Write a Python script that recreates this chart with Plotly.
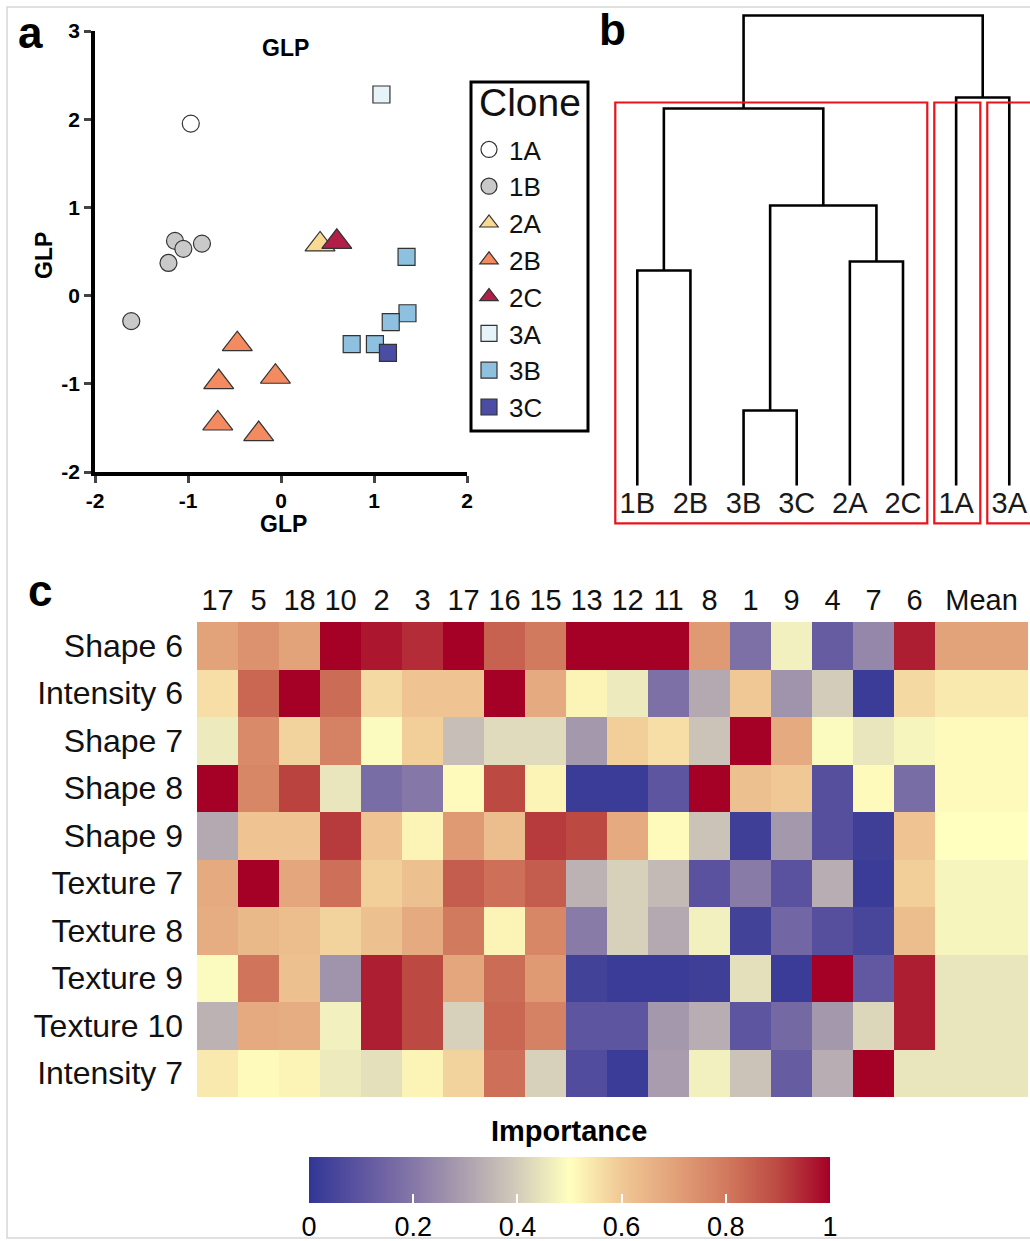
import plotly.graph_objects as go

W, H = 1030, 1241
FONT = "Arial, Liberation Sans, sans-serif"
NARROW = "Liberation Sans Narrow, Arial Narrow, Arial, Liberation Sans, sans-serif"

def pxx(p):
    return p / W

def pxy(p):
    return 1 - p / H

# ---------------- Panel a: GLP scatter ----------------
clones = ["1A", "1B", "2A", "2B", "2C", "3A", "3B", "3C"]
x_1A = [-0.97]
y_1A = [1.95]
x_1B = [-1.14, -1.05, -0.85, -1.21, -1.61]
y_1B = [0.62, 0.53, 0.59, 0.37, -0.29]
x_2A = [0.42]
y_2A = [0.58]
x_2B = [-0.47, -0.67, -0.06, -0.68, -0.24]
y_2B = [-0.55, -0.98, -0.92, -1.45, -1.57]
x_2C = [0.60]
y_2C = [0.61]
x_3A = [1.08]
y_3A = [2.28]
x_3B = [1.35, 1.36, 1.18, 0.76, 1.01]
y_3B = [0.44, -0.20, -0.30, -0.55, -0.55]
x_3C = [1.15]
y_3C = [-0.65]
clone_x = [x_1A, x_1B, x_2A, x_2B, x_2C, x_3A, x_3B, x_3C]
clone_y = [y_1A, y_1B, y_2A, y_2B, y_2C, y_3A, y_3B, y_3C]
clone_symbols = ["circle", "circle", "triangle-up", "triangle-up", "triangle-up",
                 "square", "square", "square"]
clone_colors = ["#FFFFFF", "#C9C9C9", "#F9DA90", "#F48A60", "#B11F48",
                "#E6F3F9", "#8EC0DF", "#4B4DA2"]
clone_sizes = [17, 17, 26, 26, 26, 17, 17, 17]
scatter_xticks = [-2, -1, 0, 1, 2]
scatter_xticktext = ["-2", "-1", "0", "1", "2"]
scatter_yticks = [-2, -1, 0, 1, 2, 3]
scatter_yticktext = ["-2", "-1", "0", "1", "2", "3"]

# ---------------- Panel b: dendrogram ----------------
leaves = ["1B", "2B", "3B", "3C", "2A", "2C", "1A", "3A"]
# merges: (left child, right child, height); children < 8 are leaves
merge_left = [0, 2, 4, 9, 8, 6, 12]
merge_right = [1, 3, 5, 10, 11, 7, 13]
merge_height = [2.15, 0.75, 2.24, 2.80, 3.77, 3.88, 4.70]
# red cluster boxes (leaf-position units / height units)
box_x0 = [0.586, 6.589, 7.586]
box_x1 = [6.457, 7.455, 8.700]
box_y0 = [-0.379, -0.379, -0.379]
box_y1 = [3.83, 3.83, 3.83]

# ---------------- Panel c: importance heatmap ----------------
col_labels = ["17", "5", "18", "10", "2", "3", "17", "16", "15", "13", "12", "11",
              "8", "1", "9", "4", "7", "6", "Mean"]
row_labels = ["Shape 6", "Intensity 6", "Shape 7", "Shape 8", "Shape 9",
              "Texture 7", "Texture 8", "Texture 9", "Texture 10", "Intensity 7"]
shape6 = [0.70, 0.74, 0.70, 1.00, 0.97, 0.94, 1.00, 0.85, 0.80, 1.00, 1.00, 1.00, 0.72, 0.18, 0.47, 0.12, 0.24, 0.96]
intensity6 = [0.56, 0.84, 1.00, 0.83, 0.57, 0.61, 0.61, 1.00, 0.68, 0.52, 0.46, 0.18, 0.32, 0.60, 0.27, 0.40, 0.02, 0.57]
shape7 = [0.46, 0.76, 0.58, 0.78, 0.49, 0.59, 0.37, 0.43, 0.43, 0.28, 0.59, 0.56, 0.38, 1.00, 0.68, 0.49, 0.45, 0.48]
shape8 = [1.00, 0.77, 0.91, 0.45, 0.17, 0.20, 0.51, 0.90, 0.52, 0.02, 0.02, 0.10, 1.00, 0.62, 0.60, 0.08, 0.51, 0.17]
shape9 = [0.32, 0.61, 0.61, 0.92, 0.61, 0.52, 0.72, 0.63, 0.92, 0.90, 0.68, 0.51, 0.38, 0.03, 0.28, 0.08, 0.03, 0.61]
texture7 = [0.68, 1.00, 0.69, 0.82, 0.59, 0.62, 0.86, 0.82, 0.86, 0.34, 0.41, 0.36, 0.09, 0.21, 0.09, 0.33, 0.02, 0.59]
texture8 = [0.67, 0.64, 0.63, 0.58, 0.62, 0.68, 0.80, 0.52, 0.77, 0.21, 0.41, 0.32, 0.47, 0.04, 0.15, 0.08, 0.05, 0.63]
texture9 = [0.49, 0.81, 0.62, 0.27, 0.96, 0.90, 0.69, 0.83, 0.72, 0.04, 0.02, 0.02, 0.03, 0.44, 0.02, 1.00, 0.11, 0.96]
texture10 = [0.34, 0.68, 0.67, 0.47, 0.96, 0.90, 0.41, 0.84, 0.78, 0.10, 0.10, 0.28, 0.33, 0.10, 0.16, 0.28, 0.42, 0.96]
intensity7 = [0.54, 0.51, 0.52, 0.46, 0.44, 0.52, 0.58, 0.82, 0.41, 0.07, 0.02, 0.29, 0.47, 0.38, 0.12, 0.33, 1.00, 0.45]
mean_importance = [0.70, 0.54, 0.51, 0.51, 0.50, 0.48, 0.48, 0.45, 0.45, 0.45]
mean_col_width = 2.27
cbar_ticks = [0, 0.2, 0.4, 0.6, 0.8, 1]
cbar_ticktext = ["0", "0.2", "0.4", "0.6", "0.8", "1"]

importance_colorscale = [
    [0.0, "#313695"], [0.1, "#5E55A0"], [0.2, "#8577A7"], [0.3, "#ACA0AF"],
    [0.4, "#D3CCBA"], [0.5, "#FFFFBF"], [0.6, "#F0C895"], [0.7, "#E2A27A"],
    [0.8, "#D27A5E"], [0.9, "#BC4A43"], [1.0, "#A50026"],
]

fig = go.Figure()

# ---- panel a traces
for name, xs, ys, sym, col, sz in zip(clones, clone_x, clone_y, clone_symbols,
                                      clone_colors, clone_sizes):
    fig.add_trace(go.Scatter(
        x=xs, y=ys, mode="markers", name=name,
        marker=dict(symbol=sym, color=col, size=sz,
                    line=dict(color="#333333", width=1.2)),
        xaxis="x", yaxis="y", showlegend=True,
    ))

# ---- panel b dendrogram
node_x = [float(i + 1) for i in range(len(leaves))]
node_h = [0.0] * len(leaves)
line_x, line_y = [], []
for l, r, h in zip(merge_left, merge_right, merge_height):
    xl, xr = node_x[l], node_x[r]
    line_x += [xl, xl, xr, xr, None]
    line_y += [node_h[l], h, h, node_h[r], None]
    node_x.append((xl + xr) / 2)
    node_h.append(h)
fig.add_trace(go.Scatter(
    x=line_x, y=line_y, mode="lines", line=dict(color="black", width=2.6),
    xaxis="x2", yaxis="y2", showlegend=False, hoverinfo="skip",
))
fig.add_trace(go.Scatter(
    x=node_x[:len(leaves)], y=[-0.205] * len(leaves), mode="text", text=leaves,
    textfont=dict(family=FONT, size=29, color="#1a1a1a"),
    textposition="middle center", xaxis="x2", yaxis="y2", showlegend=False,
    cliponaxis=False,
))

# ---- panel c heatmap
rows = [shape6, intensity6, shape7, shape8, shape9, texture7, texture8,
        texture9, texture10, intensity7]
z = [r + [m] for r, m in zip(rows, mean_importance)]
n_cols = len(rows[0])
x_edges = list(range(n_cols + 1)) + [n_cols + mean_col_width]
col_centers = [(x_edges[i] + x_edges[i + 1]) / 2 for i in range(n_cols + 1)]
fig.add_trace(go.Heatmap(
    z=z, x=x_edges, y=list(range(len(row_labels))),
    colorscale=importance_colorscale, zmin=0, zmax=1,
    xaxis="x3", yaxis="y3", showscale=True,
    colorbar=dict(
        orientation="h", x=569.5 / W, xanchor="center",
        y=pxy(1157), yanchor="top", len=521, lenmode="pixels",
        thickness=46, thicknessmode="pixels", outlinewidth=0,
        xpad=0, ypad=0,
        ticks="inside", ticklen=9, tickwidth=2, tickcolor="white",
        tickvals=cbar_ticks, ticktext=cbar_ticktext,
        tickfont=dict(family=NARROW, size=27, color="black"),
    ),
))

ax_common = dict(showgrid=False, zeroline=False, automargin=False)
tick_font = dict(family=FONT, size=21, weight="bold", color="black")
fig.update_layout(
    width=W, height=H,
    margin=dict(l=0, r=0, t=0, b=0, pad=0, autoexpand=False),
    paper_bgcolor="white", plot_bgcolor="rgba(0,0,0,0)",
    font=dict(family=FONT, color="black"),
    xaxis=dict(domain=[pxx(95), pxx(467)], range=[-2, 2], anchor="y",
               tickvals=scatter_xticks, ticktext=scatter_xticktext,
               ticks="outside", ticklen=7, tickwidth=3,
               showline=True, linewidth=3.5, linecolor="black",
               tickfont=tick_font, **ax_common),
    yaxis=dict(domain=[pxy(472), pxy(31)], range=[-2, 3], anchor="x",
               tickvals=scatter_yticks, ticktext=scatter_yticktext,
               ticks="outside", ticklen=7, tickwidth=3,
               showline=True, linewidth=3.5, linecolor="black",
               tickfont=tick_font, **ax_common),
    xaxis2=dict(domain=[pxx(590), 1.0], range=[0.110, 8.39], anchor="y2",
                visible=False, **ax_common),
    yaxis2=dict(domain=[pxy(540), pxy(5)], range=[-0.545, 4.805], anchor="x2",
                visible=False, **ax_common),
    xaxis3=dict(domain=[pxx(197), 1.0], range=[0, (1030 - 197) / 41.0], anchor="y3",
                side="top", tickvals=col_centers, ticktext=col_labels, ticks="",
                ticklabelstandoff=5, showline=False,
                tickfont=dict(family=FONT, size=29, color="#111"), **ax_common),
    yaxis3=dict(domain=[pxy(1097), pxy(622)], range=[9.5, -0.5], anchor="x3",
                tickvals=list(range(len(row_labels))), ticktext=row_labels, ticks="",
                ticklabelstandoff=13, showline=False,
                tickfont=dict(family=FONT, size=32, color="#111"), **ax_common),
    legend=dict(
        x=pxx(469), y=pxy(126), xanchor="left", yanchor="top",
        bgcolor="rgba(0,0,0,0)", borderwidth=0,
        font=dict(family=FONT, size=26, color="#111"),
        tracegroupgap=0, itemsizing="trace",
    ),
)

# legend frame and title
fig.add_shape(type="rect", xref="paper", yref="paper",
              x0=pxx(471), x1=pxx(588), y0=pxy(431), y1=pxy(82),
              line=dict(color="black", width=3), fillcolor="rgba(0,0,0,0)")
fig.add_annotation(text="Clone", x=pxx(530), y=pxy(102), xref="paper", yref="paper",
                   showarrow=False, xanchor="center", yanchor="middle",
                   font=dict(family=FONT, size=39, color="#111"))

# red cluster boxes
for x0, x1, y0, y1 in zip(box_x0, box_x1, box_y0, box_y1):
    fig.add_shape(type="rect", xref="x2", yref="y2", x0=x0, x1=x1, y0=y0, y1=y1,
                  line=dict(color="#E8141B", width=2.2), fillcolor="rgba(0,0,0,0)",
                  layer="above")

# outer light frame
fig.add_shape(type="rect", xref="paper", yref="paper",
              x0=pxx(7), x1=1.02, y0=pxy(1238), y1=pxy(7),
              line=dict(color="#D6D6D6", width=1.5))

ann = [
    dict(text="<b>a</b>", x=pxx(30), y=pxy(33), size=44),
    dict(text="<b>b</b>", x=pxx(612), y=pxy(30), size=44),
    dict(text="<b>c</b>", x=pxx(40), y=pxy(590), size=44),
    dict(text="<b>GLP</b>", x=pxx(285), y=pxy(48), size=23),
    dict(text="<b>GLP</b>", x=pxx(283), y=pxy(524), size=23),
]
for a in ann:
    fig.add_annotation(text=a["text"], x=a["x"], y=a["y"], xref="paper", yref="paper",
                       showarrow=False, xanchor="center", yanchor="middle",
                       font=dict(family=FONT, size=a["size"], color="black"))
fig.add_annotation(text="<b>GLP</b>", x=pxx(44), y=pxy(256), xref="paper", yref="paper",
                   showarrow=False, textangle=-90, xanchor="center", yanchor="middle",
                   font=dict(family=FONT, size=23, color="black"))
fig.add_annotation(text="<b>Importance</b>", x=pxx(569), y=pxy(1131), xref="paper",
                   yref="paper", showarrow=False, xanchor="center", yanchor="middle",
                   font=dict(family=NARROW, size=29, color="black"))

page_fix = (
    "var de=document.documentElement,b=document.body;"
    "de.style.margin='0';de.style.padding='0';de.style.overflow='hidden';"
    "b.style.margin='0';b.style.padding='0';b.style.overflow='hidden';"
)
fig.write_html("out.html", config={"displayModeBar": False}, post_script=page_fix)
